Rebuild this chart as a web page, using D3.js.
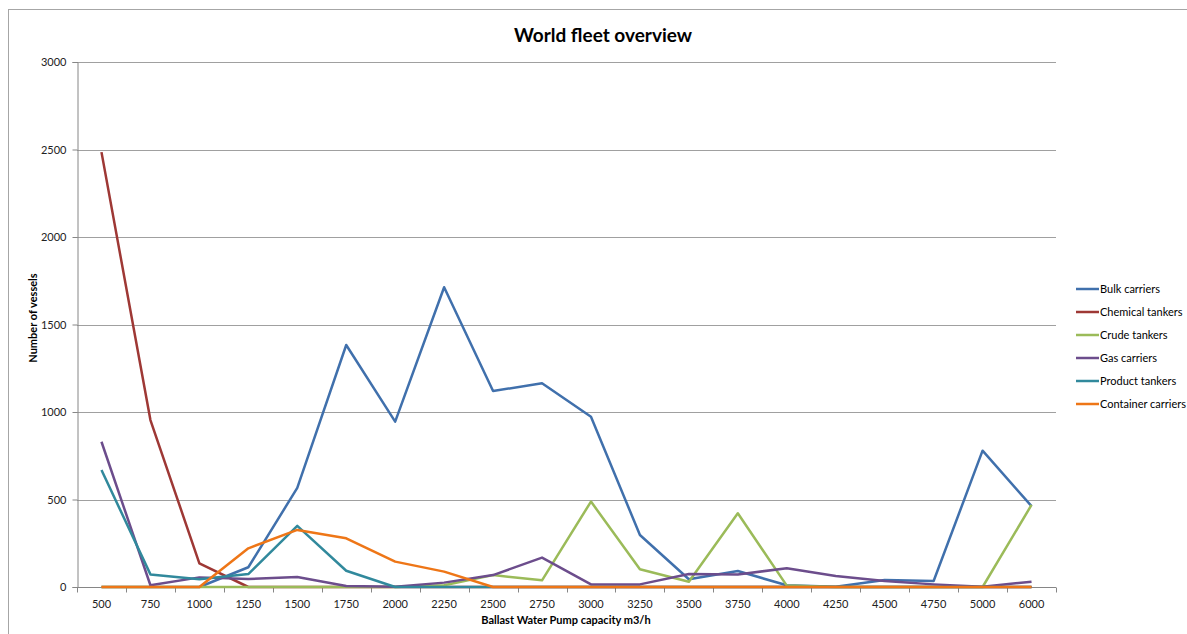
<!DOCTYPE html>
<html>
<head>
<meta charset="utf-8">
<script src="https://cdn.jsdelivr.net/npm/d3@7"></script>
<style>
  html, body { margin: 0; padding: 0; background: #fff; }
  svg { display: block; font-family: Lato, "Open Sans", sans-serif; }
</style>
</head>
<body>
<svg id="chart" width="1187" height="634"></svg>
<script>
// Pump capacity classes (m3/h)
const categories = ["500","750","1000","1250","1500","1750","2000","2250","2500","2750","3000","3250","3500","3750","4000","4250","4500","4750","5000","6000"];

// Number of vessels per capacity class
const bulkCarriers      = [0, 0, 0, 113, 566, 1383, 945, 1713, 1120, 1164, 973, 297, 44, 91, 10, 2, 40, 34, 779, 462];
const chemicalTankers   = [2485, 954, 135, 0, 0, 0, 0, 0, 0, 0, 0, 0, 0, 0, 0, 0, 0, 0, 0, 0];
const crudeTankers      = [0, 0, 0, 0, 0, 0, 0, 10, 68, 38, 488, 101, 30, 421, 8, 0, 0, 0, 0, 469];
const gasCarriers       = [830, 10, 55, 46, 57, 6, 2, 25, 68, 168, 15, 15, 74, 72, 107, 63, 34, 15, 2, 30];
const productTankers    = [669, 72, 44, 74, 349, 93, 0, 0, 0, 0, 0, 0, 0, 0, 0, 0, 0, 0, 0, 0];
const containerCarriers = [0, 0, 0, 221, 326, 278, 145, 88, 0, 0, 0, 0, 0, 0, 0, 0, 0, 0, 0, 0];

const seriesNames  = ["Bulk carriers", "Chemical tankers", "Crude tankers", "Gas carriers", "Product tankers", "Container carriers"];
const seriesValues = [bulkCarriers, chemicalTankers, crudeTankers, gasCarriers, productTankers, containerCarriers];
const seriesColors = ["#4070ac", "#9e3835", "#9bbb59", "#6c4d8c", "#31899c", "#ee7617"];

const yTicks = [0, 500, 1000, 1500, 2000, 2500, 3000];

const svg = d3.select("#chart");
const plot = { left: 77, right: 1056, top: 62, bottom: 587 };

// outer chart frame
svg.append("rect")
  .attr("x", 8.5).attr("y", 9.5)
  .attr("width", 1200).attr("height", 700)
  .attr("fill", "none").attr("stroke", "#a6a6a6").attr("stroke-width", 1);

const x = d3.scaleBand().domain(categories).range([plot.left, plot.right]);
const y = d3.scaleLinear().domain([0, 3000]).range([plot.bottom, plot.top]);

// horizontal gridlines
svg.append("g").selectAll("line")
  .data(yTicks.filter(d => d > 0))
  .join("line")
  .attr("x1", plot.left).attr("x2", plot.right)
  .attr("y1", d => Math.round(y(d)) + 0.5).attr("y2", d => Math.round(y(d)) + 0.5)
  .attr("stroke", "#a0a0a0").attr("stroke-width", 1);

// y axis
const yAxis = svg.append("g")
  .attr("transform", `translate(${plot.left + 0.5},0)`)
  .call(d3.axisLeft(y).tickValues(yTicks).tickSize(5).tickPadding(6).tickFormat(d3.format("d")));
yAxis.select(".domain").attr("stroke", "#868686");
yAxis.selectAll(".tick line").attr("stroke", "#868686");
yAxis.selectAll(".tick text").attr("fill", "#222").style("font-size", "11px").style("font-family", "Lato, sans-serif");

// x axis: ticks on category boundaries, labels centred in each band
const xg = svg.append("g").attr("transform", `translate(0,${Math.round(plot.bottom) + 0.5})`);
xg.append("line")
  .attr("x1", plot.left).attr("x2", plot.right)
  .attr("stroke", "#868686");
const bounds = categories.map(c => x(c)).concat([plot.right]);
xg.selectAll("line.tk").data(bounds).join("line")
  .attr("class", "tk")
  .attr("x1", d => Math.round(d) + 0.5).attr("x2", d => Math.round(d) + 0.5)
  .attr("y1", 0).attr("y2", 5)
  .attr("stroke", "#868686");
xg.selectAll("text").data(categories).join("text")
  .attr("x", d => x(d) + x.bandwidth() / 2)
  .attr("y", 20)
  .attr("text-anchor", "middle")
  .attr("fill", "#222")
  .style("font-size", "11px")
  .text(d => d);

// series lines
const line = d3.line()
  .x((d, i) => x(categories[i]) + x.bandwidth() / 2)
  .y(d => y(d));

svg.append("g").selectAll("path")
  .data(seriesValues)
  .join("path")
  .attr("d", d => line(d))
  .attr("fill", "none")
  .attr("stroke", (d, i) => seriesColors[i])
  .attr("stroke-width", 2.5)
  .attr("stroke-linejoin", "round");

// title
svg.append("text")
  .attr("x", 603).attr("y", 42)
  .attr("text-anchor", "middle")
  .style("font-size", "19px").style("font-weight", "bold")
  .attr("fill", "#000")
  .text("World fleet overview");

// axis titles
svg.append("text")
  .attr("x", 566).attr("y", 624)
  .attr("text-anchor", "middle")
  .style("font-size", "11px").style("font-weight", "bold")
  .attr("fill", "#000")
  .text("Ballast Water Pump capacity m3/h");

svg.append("text")
  .attr("transform", "translate(37,318) rotate(-90)")
  .attr("text-anchor", "middle")
  .style("font-size", "11px").style("font-weight", "bold")
  .attr("fill", "#000")
  .text("Number of vessels");

// legend
const legend = svg.append("g").attr("transform", "translate(1076,289)");
const item = legend.selectAll("g").data(seriesNames).join("g")
  .attr("transform", (d, i) => `translate(0,${i * 23})`);
item.append("line")
  .attr("x1", 0).attr("x2", 23).attr("y1", 0).attr("y2", 0)
  .attr("stroke", (d, i) => seriesColors[i]).attr("stroke-width", 2.5);
item.append("text")
  .attr("x", 24).attr("y", 4)
  .style("font-size", "11px")
  .attr("fill", "#000")
  .text(d => d);
</script>
</body>
</html>
